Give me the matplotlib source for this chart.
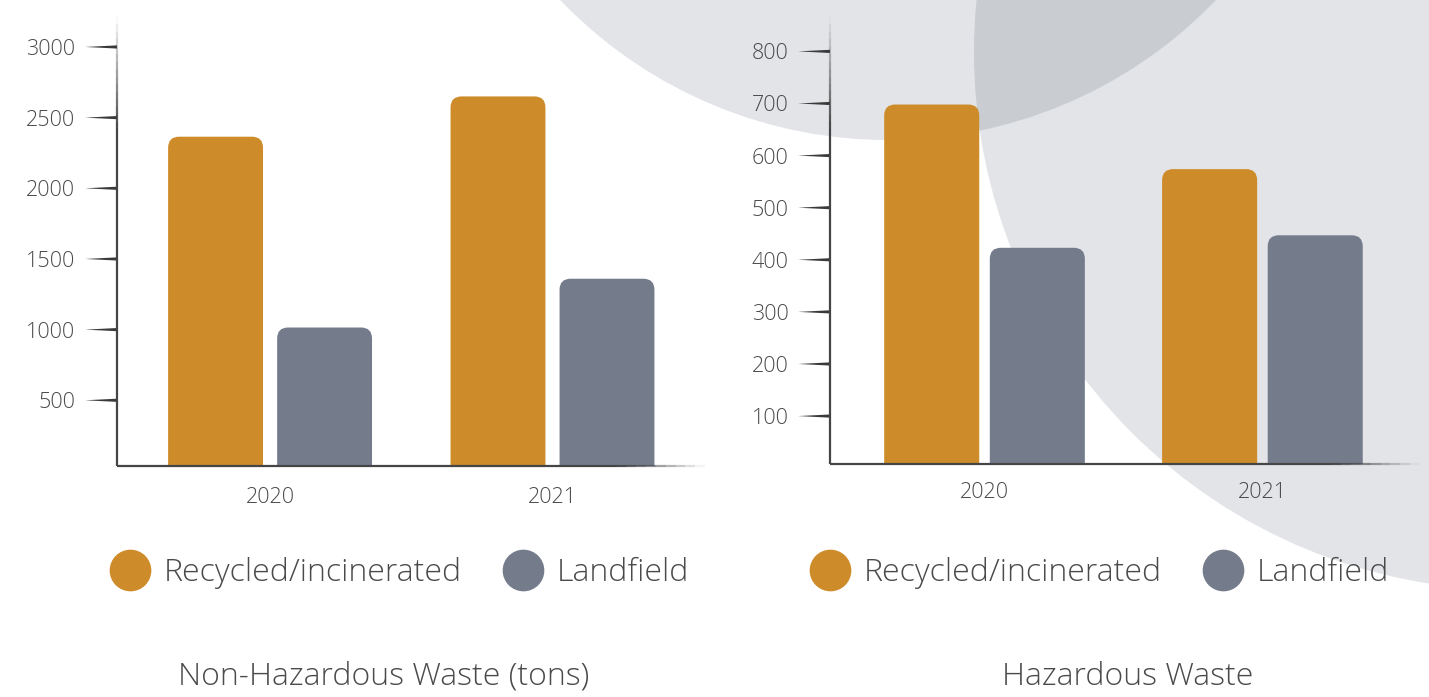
import matplotlib
matplotlib.use("Agg")
import matplotlib.pyplot as plt
import numpy as np
from matplotlib.patches import FancyBboxPatch, Circle, Polygon
from matplotlib.lines import Line2D
from matplotlib.collections import LineCollection
from matplotlib.transforms import blended_transform_factory

plt.rcParams['font.family'] = ['Open Sans', 'DejaVu Sans']

# data
years = ['2020', '2021']
series = ['Recycled/incinerated', 'Landfield']
non_haz_recycled = [2365, 2650]
non_haz_landfield = [1015, 1360]
haz_recycled = [698, 574]
haz_landfield = [423, 447]
non_haz_ticks = [500, 1000, 1500, 2000, 2500, 3000]
haz_ticks = [100, 200, 300, 400, 500, 600, 700, 800]

ORANGE = '#CE8B29'
GRAY = '#747C8C'
TXT = '#4a4a4a'
W, H = 1429, 697

fig = plt.figure(figsize=(W / 100, H / 100), dpi=100)

# background circles
bg = fig.add_axes([0, 0, 1, 1], zorder=-5)
bg.set_xlim(0, W)
bg.set_ylim(H, 0)
bg.axis('off')
c1 = Circle((888, -314), 454, fc='#E3E4E8', ec='none')
c2 = Circle((1512, 52), 538, fc='#E3E4E8', ec='none')
bg.add_patch(c1)
bg.add_patch(c2)
c3 = Circle((1512, 52), 538, fc='#C9CCD1', ec='none')
bg.add_patch(c3)
c3.set_clip_path(c1)


def px_axes(x0, top, x1, bottom):
    return fig.add_axes([x0 / W, 1 - bottom / H, (x1 - x0) / W, (bottom - top) / H])


def gradient_line(ax, p0, p1, fade_from, n=60):
    # line in axes coords that fades out towards p1 after fraction fade_from
    t = np.linspace(0, 1, n + 1)
    pts = np.array(p0) + np.outer(t, np.array(p1) - np.array(p0))
    segs = np.stack([pts[:-1], pts[1:]], axis=1)
    mid = (t[:-1] + t[1:]) / 2
    alpha = np.where(mid < fade_from, 1.0, 1 - (mid - fade_from) / (1 - fade_from))
    cols = [(0.27, 0.27, 0.27, a) for a in alpha]
    lc = LineCollection(segs, colors=cols, linewidths=1.6, transform=ax.transAxes,
                        clip_on=False, capstyle='butt')
    ax.add_collection(lc)


def draw_chart(ax, recycled, landfield, ylim, ticks, width, offset, xlim, xpad):
    x = np.arange(len(years))
    b1 = ax.bar(x - offset, recycled, width, color=ORANGE)
    b2 = ax.bar(x + offset, landfield, width, color=GRAY)
    ax.set_xlim(*xlim)
    ax.set_ylim(*ylim)
    ax.set_facecolor('none')
    for s in ax.spines.values():
        s.set_visible(False)
    ax.set_yticks(ticks)
    ax.set_xticks(x, years)
    ax.tick_params(axis='y', length=0, pad=30, labelsize=15.5, labelcolor=TXT)
    ax.tick_params(axis='x', length=0, pad=xpad, labelsize=15.5, labelcolor=TXT)
    for lab in ax.get_yticklabels() + ax.get_xticklabels():
        lab.set_fontweight('light')

    # rounded tops
    (x0p, y0p), (x1p, y1p) = ax.transData.transform([(0, 0), (1, 1)])
    sx, sy = x1p - x0p, y1p - y0p
    r = 11 / sx
    for b in list(b1) + list(b2):
        b.set_visible(False)
        bot = ylim[0] - 40 / sy
        top = b.get_y() + b.get_height()
        p = FancyBboxPatch((b.get_x(), bot), b.get_width(), top - bot,
                           boxstyle=f"round,pad=0,rounding_size={r}",
                           mutation_aspect=sx / sy, fc=b.get_facecolor(), ec='none')
        ax.add_patch(p)

    # axis lines
    gradient_line(ax, (0, 0), (0, 1), 0.75)
    gradient_line(ax, (0, 0), (1, 0), 0.85)

    # tapered ticks
    bb = ax.get_window_extent()
    L = 32 / bb.width
    ht = 1.6 / sy
    tr = blended_transform_factory(ax.transAxes, ax.transData)
    for v in ticks:
        ax.add_patch(Polygon([(0, v - ht), (0, v + ht), (-L, v)], closed=True,
                             fc='#3a3a3a', ec='none', transform=tr, clip_on=False))


ax1 = px_axes(117, 17, 705, 466)
draw_chart(ax1, non_haz_recycled, non_haz_landfield, (35, 3212), non_haz_ticks,
           0.336, 0.193, (-0.542, 1.54), 15)

ax2 = px_axes(830, 17, 1420, 464)
draw_chart(ax2, haz_recycled, haz_landfield, (8, 866), haz_ticks,
           0.342, 0.19, (-0.556, 1.567), 13)

# legends
handles = [Line2D([], [], marker='o', ls='none', color=c, markersize=29)
           for c in (ORANGE, GRAY)]
for xl in (110, 810):
    leg = fig.legend(handles, series, loc='center left', ncol=2,
                     bbox_to_anchor=(xl / W, 1 - 573 / H), frameon=False,
                     borderpad=0, borderaxespad=0,
                     handlelength=1.25, handletextpad=0.42, columnspacing=1.3,
                     prop={'size': 23, 'weight': 'light'})
    for t in leg.get_texts():
        t.set_color(TXT)

fig.text(384 / W, 1 - 677 / H, 'Non-Hazardous Waste (tons)', ha='center', va='center',
         fontsize=23, color=TXT, fontweight='light')
fig.text(1128 / W, 1 - 677 / H, 'Hazardous Waste', ha='center', va='center',
         fontsize=23, color=TXT, fontweight='light')

fig.savefig('out.png', dpi=100)
